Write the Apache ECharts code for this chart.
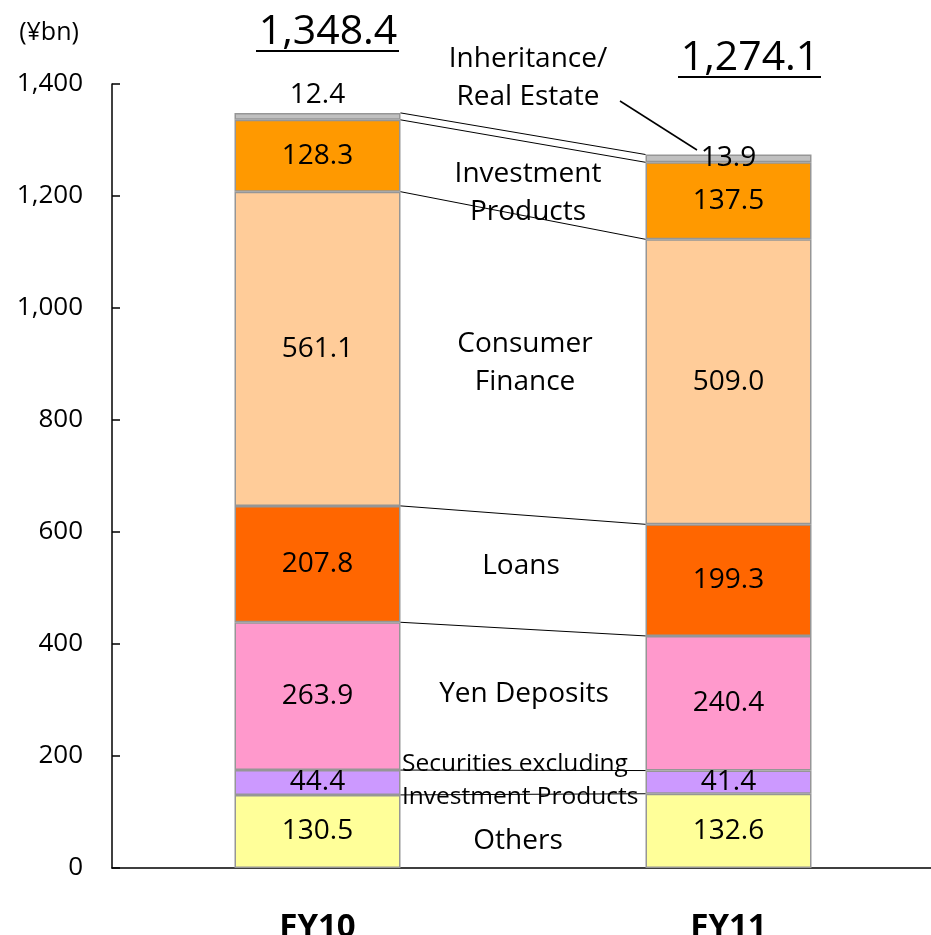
<!DOCTYPE html>
<html>
<head>
<meta charset="utf-8">
<script src="https://cdn.jsdelivr.net/npm/echarts@6/dist/echarts.min.js"></script>
<style>html,body{margin:0;padding:0;background:#fff;}#c{width:931px;height:935px;}</style>
</head>
<body>
<div id="c"></div>
<script>
var categories = ['FY10', 'FY11'];
var seriesNames = ['Others', 'Securities excluding Investment Products', 'Yen Deposits', 'Loans', 'Consumer Finance', 'Investment Products', 'Inheritance/Real Estate'];
var others = [130.5, 132.6];
var securities = [44.4, 41.4];
var yenDeposits = [263.9, 240.4];
var loans = [207.8, 199.3];
var consumerFinance = [561.1, 509.0];
var investmentProducts = [128.3, 137.5];
var inheritance = [12.4, 13.9];
var totals = ['1,348.4', '1,274.1'];
var yTicks = [0, 200, 400, 600, 800, 1000, 1200, 1400];

var colors = ['#FFFF99', '#CC99FF', '#FF99CC', '#FF6600', '#FFCC99', '#FF9900', '#C0C0C0'];
var allData = [others, securities, yenDeposits, loans, consumerFinance, investmentProducts, inheritance];
var FONT = '"Open Sans", sans-serif';
var BAR_W = 166;

var cum = [[], []];
for (var c = 0; c < 2; c++) {
  var s = 0;
  for (var k = 0; k < allData.length; k++) { s += allData[k][c]; cum[c].push(Math.round(s * 10) / 10); }
}
var connData = [];
for (var k = 0; k < allData.length; k++) connData.push([0, cum[0][k], cum[1][k]]);

var series = allData.map(function (arr, idx) {
  var data = arr.map(function (v, ci) {
    var d = { value: v };
    if (idx === 6 && ci === 0) d.label = { position: 'top', distance: 4 };
    return d;
  });
  return {
    name: seriesNames[idx],
    type: 'bar',
    stack: 'total',
    barWidth: BAR_W,
    data: data,
    itemStyle: { color: colors[idx], borderColor: '#969696', borderWidth: 1.5 },
    label: {
      show: true, position: 'inside', color: '#000', fontFamily: FONT, fontSize: 28,
      formatter: function (p) { return p.value.toFixed(1); }
    },
    emphasis: { disabled: true },
    animation: false
  };
});

series.push({
  type: 'custom',
  data: connData,
  encode: { x: 0, y: 1 },
  z: 10,
  silent: true,
  animation: false,
  renderItem: function (params, api) {
    var a = api.coord([0, api.value(1)]);
    var b = api.coord([1, api.value(2)]);
    return {
      type: 'line',
      shape: { x1: a[0] + BAR_W / 2, y1: a[1], x2: b[0] - BAR_W / 2, y2: b[1] },
      style: { stroke: '#000', lineWidth: 1 }
    };
  }
});

var chart = echarts.init(document.getElementById('c'));

function midText(text, x, y, size, align) {
  return { type: 'text', x: x, y: y, z: 5,
    style: { text: text, fontFamily: FONT, fontSize: size, fill: '#000', textAlign: align || 'center', textVerticalAlign: 'middle', lineHeight: 38 } };
}

chart.setOption({
  animation: false,
  grid: { left: 112, top: 84, width: 822, height: 784, containLabel: false, outerBoundsMode: 'none' },
  xAxis: {
    type: 'category',
    data: categories,
    axisLine: { lineStyle: { color: '#000', width: 1.5 } },
    axisTick: { inside: true, length: 11, lineStyle: { color: '#000', width: 1.5 } },
    axisLabel: { color: '#000', fontFamily: FONT, fontSize: 33, fontWeight: 'bold', margin: 43 }
  },
  yAxis: {
    type: 'value',
    min: 0, max: 1400, interval: 200,
    axisLine: { show: true, lineStyle: { color: '#000', width: 1.5 } },
    axisTick: { show: true, inside: true, length: 8, lineStyle: { color: '#000', width: 1.5 } },
    splitLine: { show: false },
    axisLabel: { color: '#000', fontFamily: FONT, fontSize: 26, margin: 29,
      formatter: function (v) { return v.toLocaleString('en-US'); } }
  },
  series: series,
  graphic: [
    { type: 'text', x: 49, y: 33, style: { text: '(¥bn)', fontFamily: FONT, fontSize: 25, fill: '#000', textAlign: 'center', textVerticalAlign: 'middle' } },
    { type: 'text', x: 328, y: 32, style: { text: totals[0], fontFamily: FONT, fontSize: 41, fill: '#000', textAlign: 'center', textVerticalAlign: 'middle' } },
    { type: 'line', shape: { x1: 256, y1: 51, x2: 399, y2: 51 }, style: { stroke: '#000', lineWidth: 2 } },
    { type: 'text', x: 750, y: 58, style: { text: totals[1], fontFamily: FONT, fontSize: 41, fill: '#000', textAlign: 'center', textVerticalAlign: 'middle' } },
    { type: 'line', shape: { x1: 678, y1: 77, x2: 821, y2: 77 }, style: { stroke: '#000', lineWidth: 2 } },
    midText('Inheritance/\nReal Estate', 528, 78, 28),
    { type: 'line', shape: { x1: 620, y1: 101, x2: 697, y2: 150 }, style: { stroke: '#000', lineWidth: 1.5 }, z: 6 },
    midText('Investment\nProducts', 528, 193, 28),
    midText('Consumer\nFinance', 525, 363, 28),
    midText('Loans', 521, 566, 28),
    midText('Yen Deposits', 524, 694, 28),
    { type: 'text', x: 402, y: 781, z: 5, style: { text: 'Securities excluding\nInvestment Products', fontFamily: FONT, fontSize: 24.5, fill: '#000', textAlign: 'left', textVerticalAlign: 'middle', lineHeight: 33 } },
    midText('Others', 518, 841, 28)
  ]
});
</script>
</body>
</html>
